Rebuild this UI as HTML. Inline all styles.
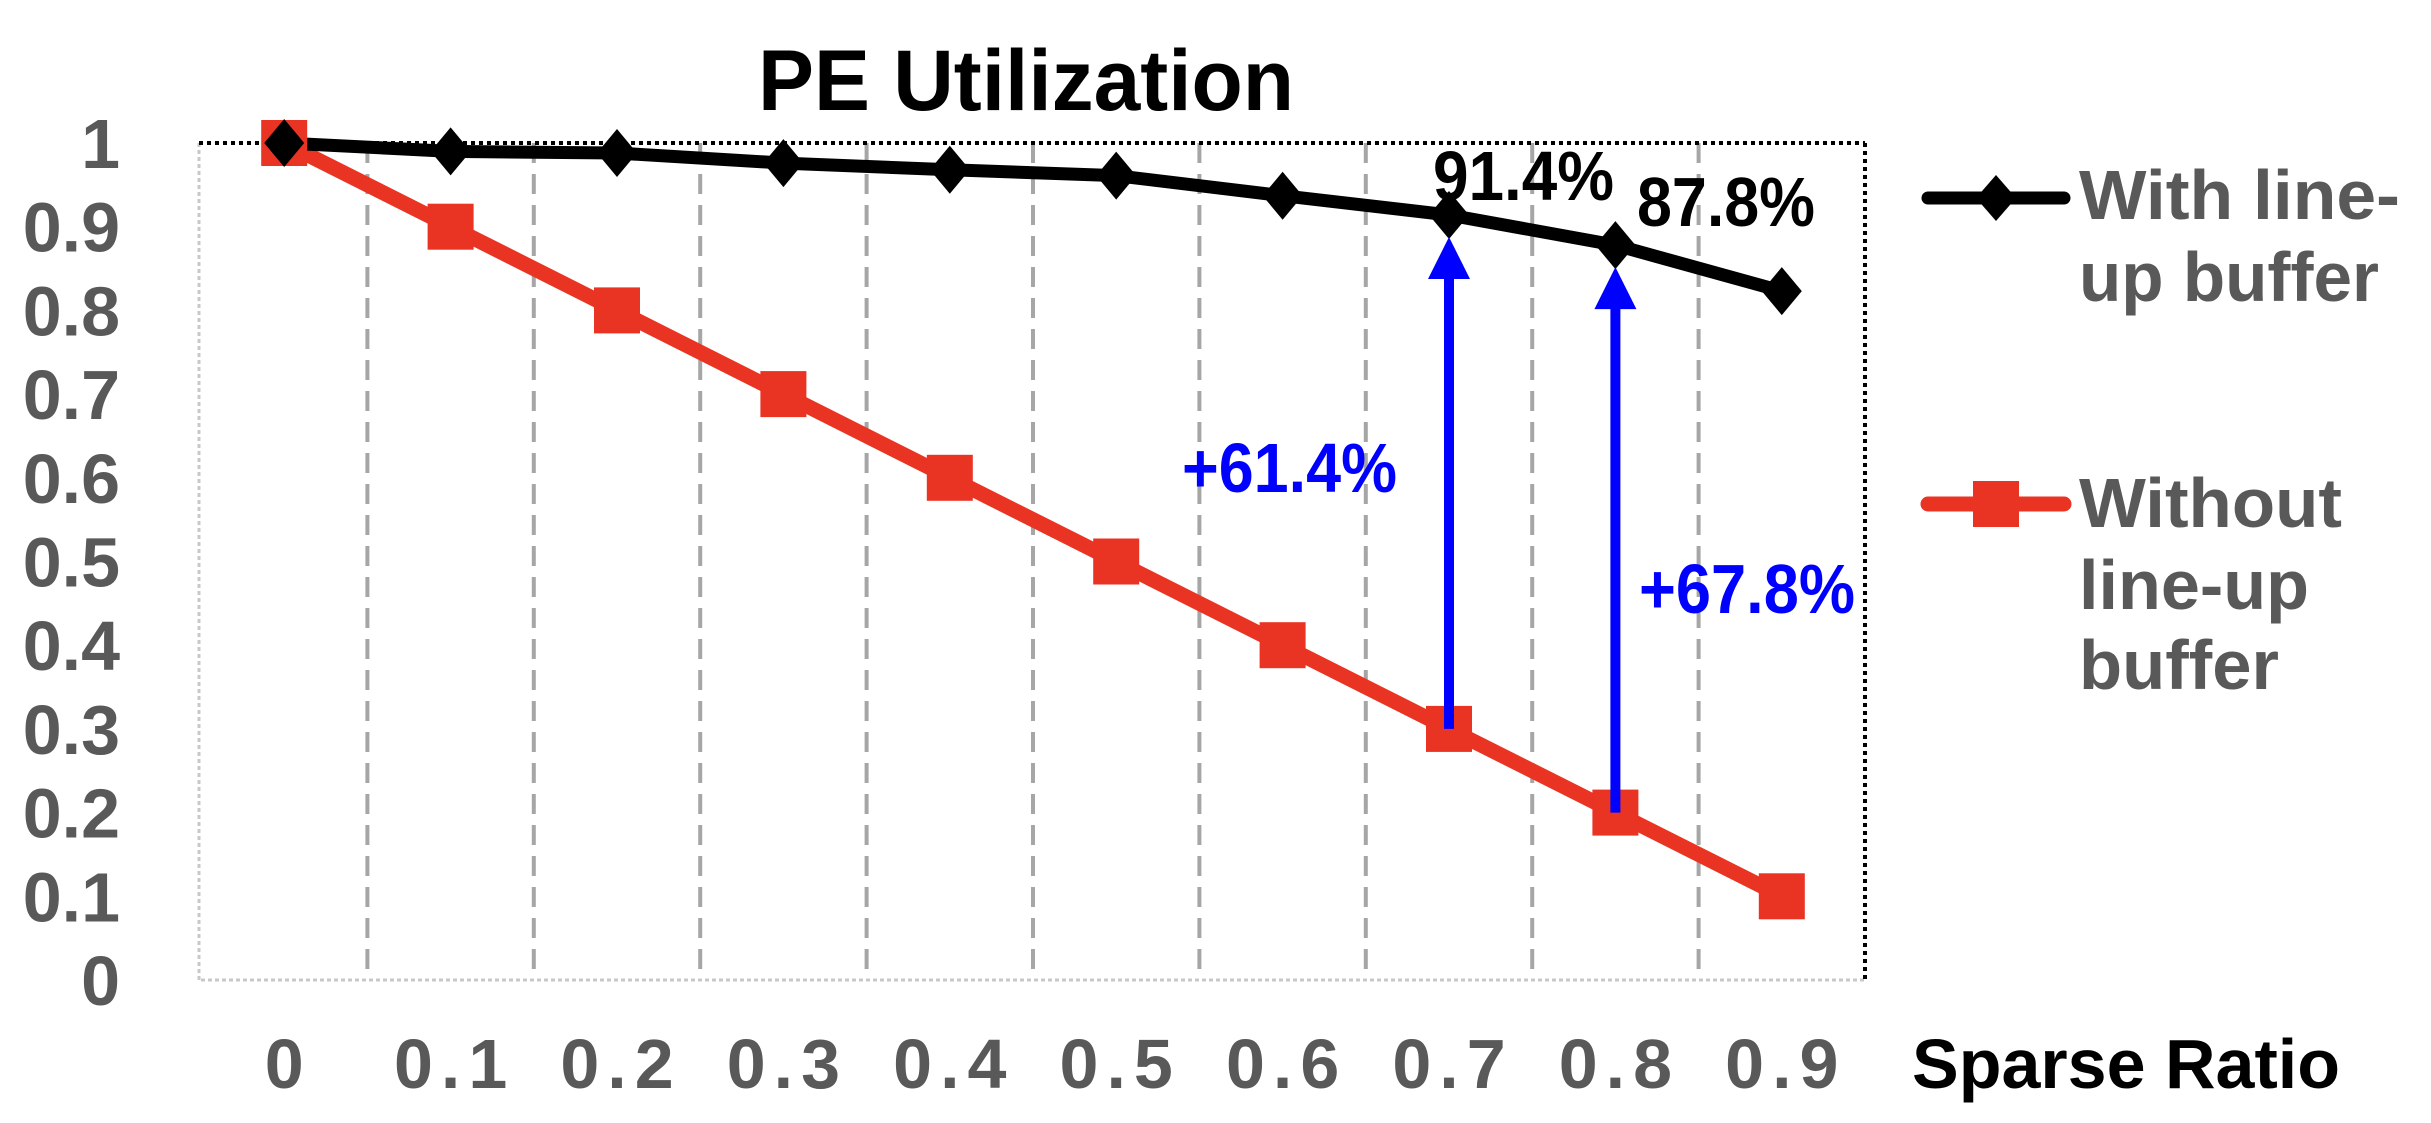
<!DOCTYPE html>
<html><head><meta charset="utf-8"><style>
html,body{margin:0;padding:0;background:#fff;}
svg{display:block;}
text{font-family:"Liberation Sans",Arial,sans-serif;font-weight:bold;}
</style></head><body>
<svg id="chart" width="2431" height="1123" viewBox="0 0 2431 1123" xmlns="http://www.w3.org/2000/svg">
<text x="758" y="110" font-size="86" fill="#000" textLength="536" lengthAdjust="spacingAndGlyphs">PE Utilization</text>
<g id="grid"></g>
<g id="frame"></g>
<g id="yticks"></g>
<g id="xticks"></g>
<text x="1912" y="1088" font-size="70" fill="#000" textLength="428" lengthAdjust="spacingAndGlyphs">Sparse Ratio</text>
<g id="series"></g>
<g id="annot"></g>
<g>
  <g>
    <line x1="1928" y1="198" x2="2064" y2="198" stroke="#000" stroke-width="13" stroke-linecap="round"/>
    <polygon points="1996,175 2016,198 1996,221 1976,198" fill="#000"/>
    <text x="2079" y="219" font-size="70" fill="#595959" textLength="321" lengthAdjust="spacingAndGlyphs">With line-</text>
    <text x="2079" y="301" font-size="70" fill="#595959" textLength="300" lengthAdjust="spacingAndGlyphs">up buffer</text>
  </g>
  <g>
    <line x1="1928" y1="504" x2="2064" y2="504" stroke="#e93323" stroke-width="15" stroke-linecap="round"/>
    <rect x="1973" y="481" width="46" height="46" fill="#e93323"/>
    <text x="2079" y="527" font-size="70" fill="#595959" textLength="263" lengthAdjust="spacingAndGlyphs">Without</text>
    <text x="2079" y="609" font-size="70" fill="#595959" textLength="230" lengthAdjust="spacingAndGlyphs">line-up</text>
    <text x="2079" y="689" font-size="70" fill="#595959" textLength="200" lengthAdjust="spacingAndGlyphs">buffer</text>
  </g>
</g>
</svg>
<script>
const categories = ['0','0.1','0.2','0.3','0.4','0.5','0.6','0.7','0.8','0.9'];
const withBuffer = [1.0, 0.99, 0.988, 0.976, 0.968, 0.961, 0.937, 0.914, 0.878, 0.823];
const withoutBuffer = [1.0, 0.9, 0.8, 0.7, 0.6, 0.5, 0.4, 0.3, 0.2, 0.1];
const yTickLabels = ['0','0.1','0.2','0.3','0.4','0.5','0.6','0.7','0.8','0.9','1'];
const yTickValues = [0,0.1,0.2,0.3,0.4,0.5,0.6,0.7,0.8,0.9,1];
const pointLabels = ['91.4%','87.8%'];
const pointLabelIdx = [7, 8];
const gainLabels = ['+61.4%','+67.8%'];

const NS='http://www.w3.org/2000/svg';
const L=201, R=1865, T=143, B=980;
const step=(R-L)/categories.length;
function xPos(i){return L+step*(i+0.5);}
function yPos(v){return B-(B-T)*v;}
function mk(tag,attrs,parent){const e=document.createElementNS(NS,tag);for(const k in attrs)e.setAttribute(k,attrs[k]);parent.appendChild(e);return e;}

const grid=document.getElementById('grid');
for(let i=1;i<categories.length;i++){
  const g=mk('line',{x1:L+step*i,y1:T,x2:L+step*i,y2:B,stroke:'#a6a6a6','stroke-width':4,'stroke-dasharray':'20 11'},grid);
  
  
}
const frame=document.getElementById('frame');
mk('line',{x1:L,y1:B,x2:R,y2:B,stroke:'#c8c8c8','stroke-width':3,'stroke-dasharray':'4 3'},frame);
mk('line',{x1:L-2,y1:T,x2:L-2,y2:B,stroke:'#c8c8c8','stroke-width':3,'stroke-dasharray':'4 3'},frame);
mk('line',{x1:L-2,y1:T,x2:R,y2:T,stroke:'#000','stroke-width':4,'stroke-dasharray':'4 4'},frame);
mk('line',{x1:R,y1:T,x2:R,y2:B,stroke:'#000','stroke-width':4,'stroke-dasharray':'4 4'},frame);

const yt=document.getElementById('yticks');
yTickValues.forEach((v,i)=>{
  const t=mk('text',{x:120,y:yPos(v)+25,'font-size':70,fill:'#595959','text-anchor':'end'},yt);
  t.textContent=yTickLabels[i];
  
  
});
const xt=document.getElementById('xticks');
categories.forEach((c,i)=>{
  const t=mk('text',{x:xPos(i)+4,y:1088,'font-size':70,fill:'#595959','text-anchor':'middle','letter-spacing':8},xt);
  t.textContent=c;
  
  
});

const s=document.getElementById('series');
const pr=withoutBuffer.map((v,i)=>xPos(i)+','+yPos(v)).join(' ');
const redLine=mk('polyline',{points:pr,fill:'none',stroke:'#e93323','stroke-width':15,'stroke-linejoin':'round'},s);


const pb=withBuffer.map((v,i)=>xPos(i)+','+yPos(v)).join(' ');
const blackLine=mk('polyline',{points:pb,fill:'none',stroke:'#000','stroke-width':13,'stroke-linejoin':'round'},s);



const an=document.getElementById('annot');
pointLabelIdx.forEach((idx,k)=>{
  const x=xPos(idx), y0=yPos(withoutBuffer[idx]), y1=yPos(withBuffer[idx])+22;
  const ln=mk('line',{x1:x,y1:y0,x2:x,y2:y1+40,stroke:'#0000ff','stroke-width':10},an);
  
  
  const hd=mk('polygon',{points:`${x},${y1} ${x+21},${y1+42} ${x-21},${y1+42}`,fill:'#0000ff'},an);
  
  
});

withoutBuffer.forEach((v,i)=>{
  const r=mk('rect',{x:xPos(i)-23,y:yPos(v)-23,width:46,height:46,fill:'#e93323'},s);
  
  
});
withBuffer.forEach((v,i)=>{
  const x=xPos(i),y=yPos(v);
  const d=mk('polygon',{points:`${x},${y-24} ${x+20},${y} ${x},${y+24} ${x-20},${y}`,fill:'#000'},s);
  
  
});

const lbl1=mk('text',{x:1433,y:200,'font-size':70,fill:'#000',textLength:181,lengthAdjust:'spacingAndGlyphs'},an);
lbl1.textContent=pointLabels[0];


const lbl2=mk('text',{x:1637,y:226,'font-size':70,fill:'#000',textLength:178,lengthAdjust:'spacingAndGlyphs'},an);
lbl2.textContent=pointLabels[1];


const g1=mk('text',{x:1182,y:492,'font-size':70,fill:'#0000ff',textLength:215,lengthAdjust:'spacingAndGlyphs'},an);
g1.textContent=gainLabels[0];


const g2=mk('text',{x:1639,y:613,'font-size':70,fill:'#0000ff',textLength:216,lengthAdjust:'spacingAndGlyphs'},an);
g2.textContent=gainLabels[1];


</script>
</body></html>
